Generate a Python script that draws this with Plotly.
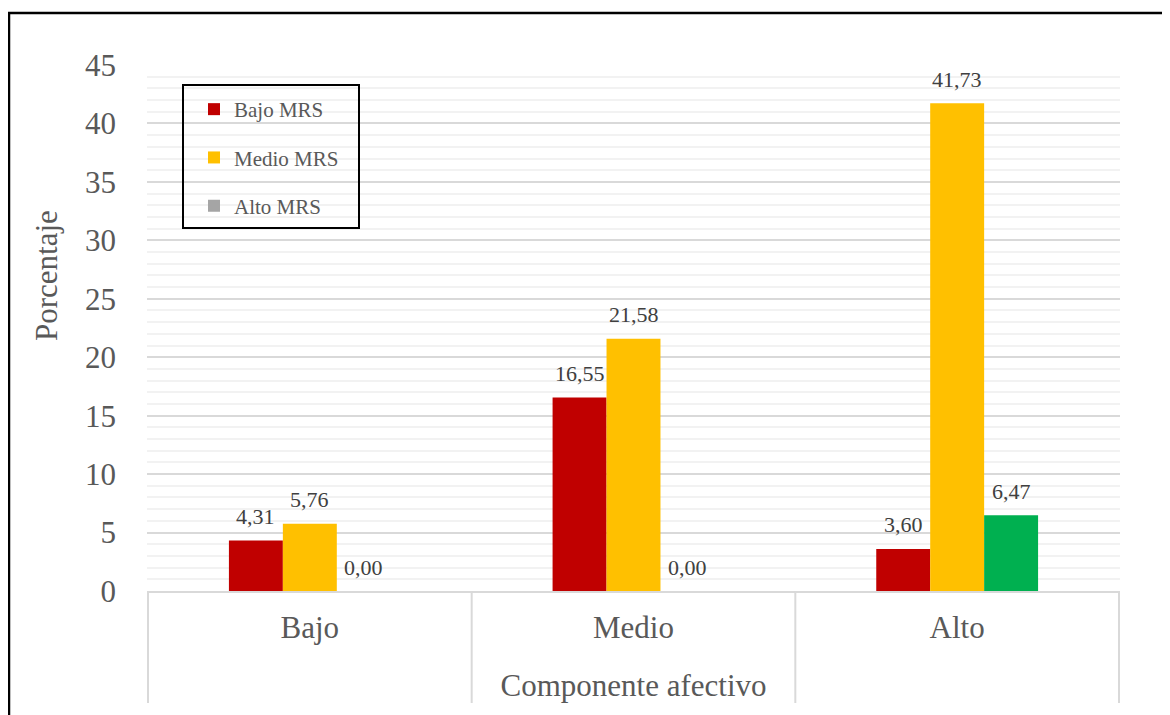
import plotly.graph_objects as go

categories = ["Bajo", "Medio", "Alto"]
bajo_mrs = [4.31, 16.55, 3.60]
medio_mrs = [5.76, 21.58, 41.73]
alto_mrs = [0.00, 0.00, 6.47]
series_names = ["Bajo MRS", "Medio MRS", "Alto MRS"]
y_ticks = [0, 5, 10, 15, 20, 25, 30, 35, 40, 45]

FONT = "Liberation Serif"
OFF = 8  # page body margin
W, H = 1170 - OFF, 715 - OFF
L, T = 147 - OFF, 65 - OFF
R = W - (1120 - OFF)
B = H - (591 - OFF)
pw, ph = W - L - R, H - T - B
BARGAP = 0.5


def px_x(p):
    return (p - OFF - L) / pw


def px_y(p):
    return (H - B - (p - OFF)) / ph


fig = go.Figure()
colors = ["#C00000", "#FFC000", ["#A5A5A5", "#A5A5A5", "#00B050"]]
all_series = [bajo_mrs, medio_mrs, alto_mrs]
for name, vals, col in zip(series_names, all_series, colors):
    fig.add_trace(go.Bar(
        x=categories, y=vals, name=name, legendgroup=name,
        marker=dict(color=col, line=dict(width=0)),
        hoverinfo="x+y+name",
    ))

# data labels (positioned via the category axis scale)
annotations = []
n = len(all_series)
bw = (1 - BARGAP) / n
for j, vals in enumerate(all_series):
    for i, v in enumerate(vals):
        annotations.append(dict(
            x=i + (j - (n - 1) / 2) * bw, y=v, xref="x", yref="y",
            text=f"{v:.2f}".replace(".", ","), showarrow=False,
            xanchor="center", yanchor="middle", yshift=24,
            font=dict(family=FONT, size=22, color="#404040"),
        ))
annotations.append(dict(text="Porcentaje", xref="paper", yref="paper",
                        x=px_x(46), y=px_y(276), textangle=-90, showarrow=False,
                        font=dict(family=FONT, size=31, color="#595959"),
                        xanchor="center", yanchor="middle"))

shapes = []
# category separators
for xv in [-0.5, 0.5, 1.5, 2.5]:
    shapes.append(dict(type="line", xref="x", yref="paper", x0=xv, x1=xv,
                       y0=0, y1=px_y(703), line=dict(color="#D9D9D9", width=2)))
# legend box
shapes.append(dict(type="rect", xref="paper", yref="paper",
                   x0=px_x(183), x1=px_x(359), y0=px_y(228), y1=px_y(85),
                   line=dict(color="black", width=2), fillcolor="rgba(0,0,0,0)"))
# outer border
shapes.append(dict(type="rect", xref="paper", yref="paper",
                   x0=px_x(9), x1=px_x(1190), y0=px_y(740), y1=px_y(13),
                   line=dict(color="black", width=2.5), fillcolor="rgba(0,0,0,0)",
                   layer="above"))

fig.update_layout(
    width=W, height=H,
    margin=dict(l=L, r=R, t=T, b=B),
    paper_bgcolor="white", plot_bgcolor="white",
    separators=",.",
    barmode="group", bargap=BARGAP, bargroupgap=0,
    font=dict(family=FONT, color="#595959"),
    showlegend=True,
    legend=dict(
        x=px_x(194), y=px_y(89), xanchor="left", yanchor="top",
        bgcolor="rgba(0,0,0,0)", borderwidth=0,
        font=dict(family=FONT, size=21, color="#595959"),
        tracegroupgap=18, itemwidth=30,
    ),
    shapes=shapes,
    annotations=annotations,
)
fig.update_xaxes(
    showline=True, linecolor="#D9D9D9", linewidth=2,
    showgrid=False, ticks="", ticklabelstandoff=8,
    tickfont=dict(family=FONT, size=31, color="#595959"),
    title=dict(text="Componente afectivo", standoff=30,
               font=dict(family=FONT, size=31, color="#595959")),
)
fig.update_yaxes(
    range=[0, 45], tickvals=y_ticks, showline=False, zeroline=False,
    showgrid=True, gridcolor="#D9D9D9", gridwidth=2,
    minor=dict(dtick=1, showgrid=True, gridcolor="#F2F2F2", gridwidth=2),
    ticks="", ticklabelstandoff=30,
    tickfont=dict(family=FONT, size=31, color="#595959"),
)
fig.write_html("out.html")
